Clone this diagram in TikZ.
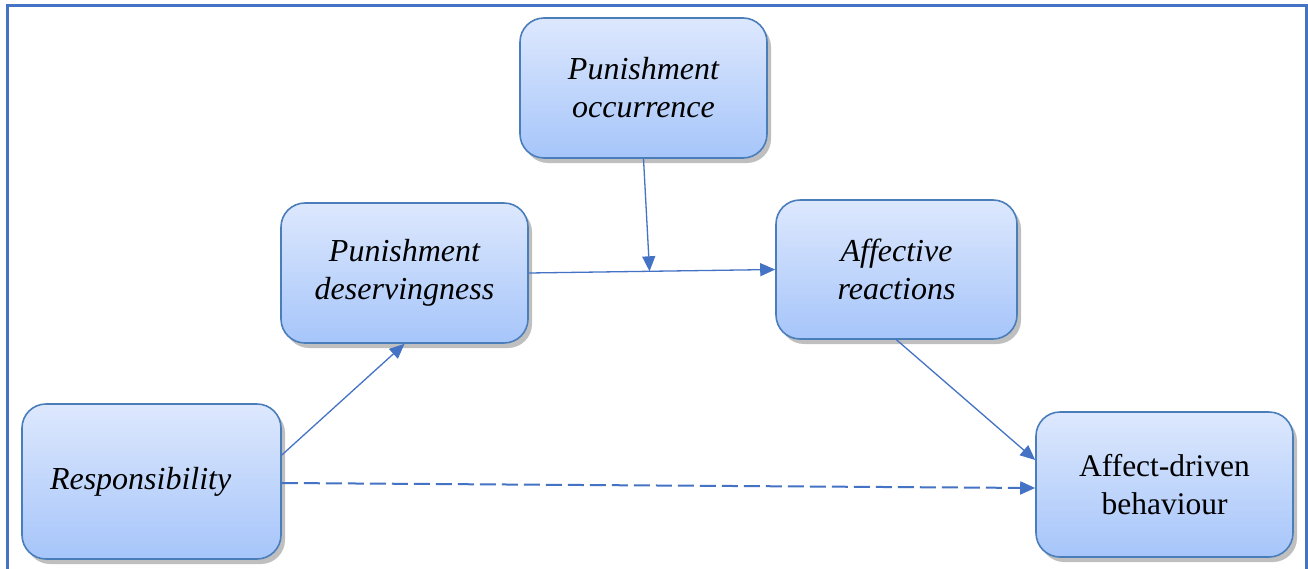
\documentclass[tikz,border=0pt]{standalone}
\usepackage{fontspec}
\setmainfont{Liberation Serif}
\usetikzlibrary{arrows.meta,shadows,calc}
\definecolor{boxtop}{HTML}{DDE8FD}
\definecolor{boxbot}{HTML}{A6C5FA}
\definecolor{boxline}{HTML}{4A7EBB}
\definecolor{arrowc}{HTML}{4472C4}
\definecolor{framec}{HTML}{4472C4}
\tikzset{
  box/.style={rectangle, rounded corners=24pt, draw=boxline, line width=1.6pt,
    top color=boxtop, bottom color=boxbot, align=center,
    font=\fontsize{32}{38}\selectfont\itshape, inner sep=0pt,
    drop shadow={shadow xshift=4pt, shadow yshift=-5pt, opacity=0.25, fill=black}},
  conn/.style={draw=arrowc, line width=1.3pt, -{Triangle[length=15pt,width=13pt]}},
  dconn/.style={conn, line width=2pt, dash pattern=on 16pt off 6pt},
}
\begin{document}
\begin{tikzpicture}[x=1pt,y=-1pt]
\useasboundingbox (0,0) rectangle (1308,568);
\fill[white] (0,0) rectangle (1308,568);
\draw[framec, line width=3pt] (7,570) -- (7,5) -- (1306,5) -- (1306,570);
\node[box, minimum width=247pt, minimum height=140pt] (occ) at (643.5,88) {Punishment\\occurrence};
\node[box, minimum width=247pt, minimum height=140pt] (des) at (404.5,273) {Punishment\\deservingness};
\node[box, minimum width=241pt, minimum height=139pt] (aff) at (896.5,269.5) {Affective\\reactions};
\node[box, minimum width=259pt, minimum height=155pt, text width=203pt, inner xsep=28pt, align=left] (resp) at (151.5,481.5) {Responsibility};
\node[box, minimum width=257pt, minimum height=145pt, font=\fontsize{31.5}{38}\selectfont] (beh) at (1164.5,484.5) {Affect-driven\\behaviour};
\coordinate (mid) at ($(des.east)!0.49!(aff.west)$);
\draw[conn] ([yshift=26.5pt]resp.east) -- (des.south);
\draw[conn] (des.east) -- (aff.west);
\draw[conn] (occ.south) -- (mid);
\draw[conn] (aff.south) -- ([yshift=24.5pt]beh.west);
\draw[dconn] ([yshift=-1.5pt]resp.east) -- ([yshift=-3.5pt]beh.west);
\end{tikzpicture}
\end{document}
